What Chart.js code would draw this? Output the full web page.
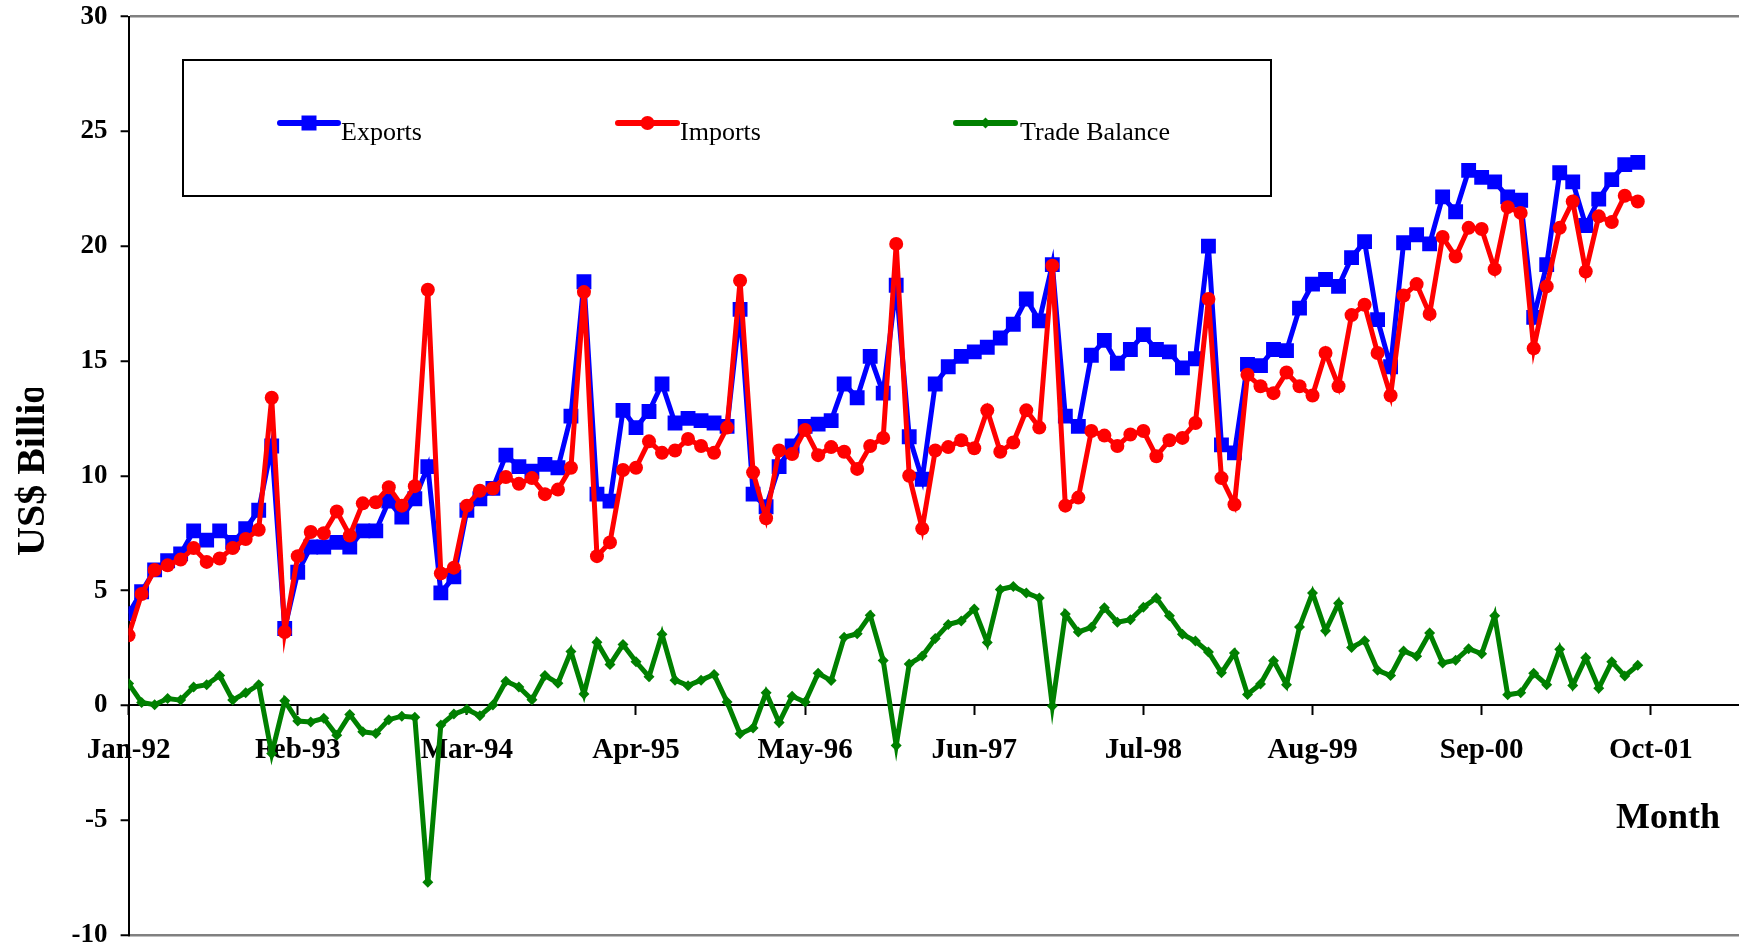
<!DOCTYPE html>
<html>
<head>
<meta charset="utf-8">
<script src="https://cdn.jsdelivr.net/npm/chart.js@4/dist/chart.umd.min.js"></script>
<style>
  html, body { margin: 0; padding: 0; background: #ffffff; }
  #wrap { width: 1739px; height: 950px; position: relative; }
</style>
</head>
<body>
<div id="wrap"><canvas id="c" width="1739" height="950"></canvas></div>
<script>
// ---- categories ----
const monthNames = ['Jan','Feb','Mar','Apr','May','Jun','Jul','Aug','Sep','Oct','Nov','Dec'];
const months = [];
for (let y = 92; y <= 101; y++) {
  for (let m = 0; m < 12; m++) {
    if (months.length < 117) months.push(monthNames[m] + '-' + String(y % 100).padStart(2, '0'));
  }
}
const tickLabels = ['Jan-92','Feb-93','Mar-94','Apr-95','May-96','Jun-97','Jul-98','Aug-99','Sep-00','Oct-01'];
const yTicks = [-10, -5, 0, 5, 10, 15, 20, 25, 30];

// ---- series values (US$ billion) ----
const exportsVals = [
  4.0, 4.95, 5.9, 6.3, 6.6, 7.6, 7.2, 7.6, 7.1, 7.7, 8.5, 11.3,
  3.35, 5.8, 6.9, 6.9, 7.1, 6.9, 7.6, 7.6, 8.9, 8.2, 9.0, 10.4,
  4.9, 5.6, 8.5, 9.0, 9.45, 10.9, 10.4, 10.2, 10.5, 10.35, 12.6, 18.45,
  9.2, 8.9, 12.85, 12.1, 12.8, 14.0, 12.3, 12.5, 12.4, 12.3, 12.15, 17.25,
  9.2, 8.65, 10.4, 11.3, 12.15, 12.25, 12.4, 14.0, 13.4, 15.2, 13.6, 18.3,
  11.7, 9.85, 14.0, 14.75, 15.2, 15.4, 15.6, 16.0, 16.6, 17.7, 16.75, 19.2,
  12.6, 12.15, 15.25, 15.9, 14.9, 15.5, 16.15, 15.5, 15.4, 14.7, 15.1, 20.0,
  11.35, 11.0, 14.85, 14.8, 15.5, 15.45, 17.3, 18.35, 18.55, 18.25, 19.5, 20.2,
  16.8, 14.75, 20.15, 20.5, 20.1, 22.15, 21.5, 23.3, 23.0, 22.8, 22.15, 22.0,
  16.9, 19.2, 23.2, 22.8, 20.9, 22.05, 22.9, 23.55, 23.65
];
const importsVals = [
  3.05, 4.85, 5.9, 6.1, 6.35, 6.85, 6.25, 6.4, 6.85, 7.25, 7.65, 13.4,
  3.2, 6.5, 7.55, 7.5, 8.45, 7.4, 8.8, 8.85, 9.5, 8.7, 9.55, 18.1,
  5.75, 6.0, 8.7, 9.35, 9.45, 9.95, 9.65, 9.9, 9.2, 9.4, 10.35, 18.0,
  6.5, 7.1, 10.25, 10.35, 11.5, 11.0, 11.1, 11.6, 11.3, 11.0, 12.1, 18.5,
  10.15, 8.15, 11.1, 10.95, 12.0, 10.9, 11.25, 11.05, 10.3, 11.3, 11.65, 20.1,
  10.0, 7.7, 11.1, 11.25, 11.55, 11.2, 12.85, 11.05, 11.45, 12.85, 12.1, 19.15,
  8.7, 9.05, 11.95, 11.75, 11.3, 11.8, 11.95, 10.85, 11.55, 11.65, 12.3, 17.7,
  9.9, 8.75, 14.4, 13.9, 13.6, 14.5, 13.9, 13.5, 15.35, 13.9, 17.0, 17.45,
  15.35, 13.5, 17.85, 18.35, 17.05, 20.4, 19.55, 20.8, 20.75, 19.0, 21.7, 21.45,
  15.55, 18.25, 20.8, 21.95, 18.9, 21.3, 21.05, 22.2, 21.95
];
const balanceVals = [
  0.95, 0.13, 0.03, 0.3, 0.23, 0.8, 0.9, 1.3, 0.23, 0.55, 0.9, -2.1,
  0.2, -0.68, -0.72, -0.56, -1.3, -0.4, -1.15, -1.22, -0.62, -0.47, -0.52, -7.7,
  -0.85, -0.38, -0.17, -0.45, 0.02, 1.05, 0.8, 0.25, 1.3, 0.97, 2.35, 0.5,
  2.75, 1.78, 2.65, 1.9, 1.25, 3.1, 1.1, 0.86, 1.1, 1.35, 0.15, -1.24,
  -0.98, 0.55, -0.75, 0.4, 0.15, 1.4, 1.08, 2.97, 3.12, 3.93, 1.96, -1.75,
  1.8, 2.15, 2.91, 3.52, 3.68, 4.2, 2.74, 5.05, 5.18, 4.9, 4.68, -0.03,
  3.98, 3.2, 3.4, 4.25, 3.62, 3.73, 4.28, 4.68, 3.9, 3.1, 2.8, 2.33,
  1.42, 2.28, 0.48, 0.93, 1.95, 0.9, 3.42, 4.9, 3.25, 4.45, 2.52, 2.82,
  1.53, 1.3, 2.37, 2.14, 3.15, 1.85, 1.97, 2.47, 2.25, 3.9, 0.46, 0.55,
  1.4, 0.9, 2.45, 0.87, 2.07, 0.75, 1.9, 1.28, 1.75
];

const seriesNames = ['Exports', 'Imports', 'Trade Balance'];
const seriesColors = ['#0000FF', '#FF0000', '#008000'];

const toPoints = arr => arr.map((v, i) => ({ x: i, y: v }));

// ---- custom drawing: legend box, axis titles ----
function drawMarker(ctx, style, x, y, color) {
  ctx.save();
  ctx.fillStyle = color;
  ctx.beginPath();
  if (style === 'rect') {
    ctx.rect(x - 7.5, y - 7.5, 15, 15);
  } else if (style === 'circle') {
    ctx.arc(x, y, 7, 0, Math.PI * 2);
  } else {
    ctx.moveTo(x - 5.5, y); ctx.lineTo(x, y - 5.5); ctx.lineTo(x + 5.5, y); ctx.lineTo(x, y + 5.5); ctx.closePath();
  }
  ctx.fill();
  ctx.restore();
}

const decorPlugin = {
  id: 'decor',
  afterDraw(chart) {
    const ctx = chart.ctx;
    ctx.save();
    // legend frame
    ctx.strokeStyle = '#000000';
    ctx.lineWidth = 2;
    ctx.strokeRect(183, 60, 1088, 136);
    const items = [
      { x1: 280, x2: 338, tx: 341, style: 'rect' },
      { x1: 618, x2: 677, tx: 680, style: 'circle' },
      { x1: 956, x2: 1015, tx: 1020, style: 'diamond' }
    ];
    items.forEach((it, k) => {
      ctx.strokeStyle = seriesColors[k];
      ctx.lineWidth = 6;
      ctx.lineCap = 'round';
      ctx.beginPath();
      ctx.moveTo(it.x1, 123);
      ctx.lineTo(it.x2, 123);
      ctx.stroke();
      drawMarker(ctx, it.style, (it.x1 + it.x2) / 2, 123, seriesColors[k]);
      ctx.fillStyle = '#000000';
      ctx.font = '26px "Liberation Serif"';
      ctx.textAlign = 'left';
      ctx.textBaseline = 'alphabetic';
      ctx.fillText(seriesNames[k], it.tx, 140);
    });
    // x-axis title
    ctx.fillStyle = '#000000';
    ctx.font = 'bold 36px "Liberation Serif"';
    ctx.textAlign = 'left';
    ctx.textBaseline = 'alphabetic';
    ctx.fillText('Month', 1616, 828);
    // y-axis title (clipped at the top as in the source)
    ctx.save();
    ctx.beginPath();
    ctx.rect(0, 388, 120, 562);
    ctx.clip();
    ctx.translate(44, 556);
    ctx.rotate(-Math.PI / 2);
    ctx.font = 'bold 40px "Liberation Serif"';
    ctx.textAlign = 'left';
    ctx.textBaseline = 'alphabetic';
    ctx.fillText('US$ Billion', 0, 0);
    ctx.restore();
    ctx.restore();
  }
};

const ctx = document.getElementById('c').getContext('2d');
new Chart(ctx, {
  type: 'line',
  data: {
    datasets: [
      {
        label: seriesNames[0], data: toPoints(exportsVals), order: 3,
        borderColor: seriesColors[0], backgroundColor: seriesColors[0], borderWidth: 5,
        pointStyle: 'rect', pointRadius: 10.5, pointBorderWidth: 0, tension: 0
      },
      {
        label: seriesNames[1], data: toPoints(importsVals), order: 2,
        borderColor: seriesColors[1], backgroundColor: seriesColors[1], borderWidth: 5,
        pointStyle: 'circle', pointRadius: 7, pointBorderWidth: 0, tension: 0
      },
      {
        label: seriesNames[2], data: toPoints(balanceVals), order: 1,
        borderColor: seriesColors[2], backgroundColor: seriesColors[2], borderWidth: 5,
        pointStyle: 'rectRot', pointRadius: 5.5, pointBorderWidth: 0, tension: 0
      }
    ]
  },
  options: {
    responsive: false,
    animation: false,
    devicePixelRatio: 1,
    events: [],
    layout: { autoPadding: false, padding: { top: 16.6, right: 0, bottom: 15, left: 0 } },
    plugins: { legend: { display: false }, tooltip: { enabled: false } },
    scales: {
      x: {
        type: 'linear',
        position: { y: 0 },
        min: 0,
        max: 123.78,
        afterBuildTicks: axis => { axis.ticks = tickLabels.map((_, i) => ({ value: i * 13 })); },
        afterFit: scale => { scale.paddingLeft = 0; scale.paddingRight = 0; scale.paddingTop = 0; scale.paddingBottom = 0; },
        ticks: {
          autoSkip: false, maxRotation: 0, minRotation: 0, padding: 19,
          color: '#000000',
          font: { family: '"Liberation Serif"', size: 29, weight: 'bold' },
          callback: v => tickLabels[Math.round(v / 13)] || ''
        },
        grid: { drawOnChartArea: false, drawTicks: true, tickLength: 9, tickWidth: 2, tickColor: '#000000' },
        border: { display: true, color: '#000000', width: 2 }
      },
      y: {
        type: 'linear',
        position: 'left',
        min: -10,
        max: 30,
        afterBuildTicks: axis => { axis.ticks = yTicks.map(v => ({ value: v })); },
        afterFit: scale => { scale.width = 128.6; scale.paddingTop = 0; scale.paddingBottom = 0; },
        ticks: {
          padding: 13, color: '#000000',
          font: { family: '"Liberation Serif"', size: 27, weight: 'bold' }
        },
        grid: {
          drawOnChartArea: true, drawTicks: true, tickLength: 8, tickWidth: 2, tickColor: '#000000',
          lineWidth: 2.5,
          color: c => (c.tick && (c.tick.value === 30 || c.tick.value === -10)) ? '#808080' : 'rgba(0,0,0,0)'
        },
        border: { display: true, color: '#000000', width: 2 }
      }
    }
  },
  plugins: [decorPlugin]
});
</script>
</body>
</html>
